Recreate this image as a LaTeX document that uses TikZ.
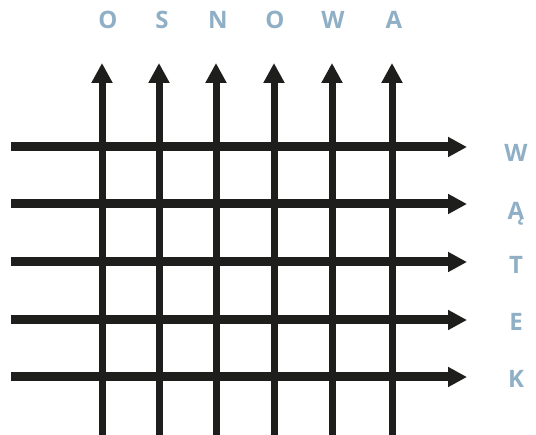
\documentclass[tikz,border=0pt]{standalone}
\usepackage{fontspec}
\setmainfont{Open Sans}[BoldFont={Open Sans Bold}]
\usetikzlibrary{arrows.meta,positioning}
\definecolor{lettercol}{HTML}{8FAFC6}
\definecolor{yarncol}{HTML}{1E1E1C}

\begin{document}
\begin{tikzpicture}[x=1pt,y=-1pt,
 lbl/.style={text=lettercol,font=\bfseries\fontsize{24}{24}\selectfont,anchor=base,inner sep=0pt},
 warp/.style={-{Triangle[length=20pt,width=20pt]},line width=7pt,draw=yarncol},
 weft/.style={-{Triangle[length=19pt,width=19pt]},line width=9pt,draw=yarncol}]
\useasboundingbox (0,0) rectangle (536,435);
% osnowa (warp)
\node[lbl] (o1) at (108,29) {O};\node[lbl] (s) at (162,29) {S};\node[lbl] (n) at (218,29) {N};
\node[lbl] (o2) at (275,29) {O};\node[lbl] (w1) at (333,29) {W};\node[lbl] (a) at (394,29) {A};
% wątek (weft)
\node[lbl] (w2) at (516,162) {W};\node[lbl] (aa) at (516,220) {Ą};\node[lbl] (t) at (516,274) {T};
\node[lbl] (e) at (516,331) {E};\node[lbl] (k) at (516,388) {K};
% ends of the threads
\coordinate (v1s) at (102,435);\coordinate (v1e) at (102,63);
\coordinate (v2s) at (159,435);\coordinate (v2e) at (159,63);
\coordinate (v3s) at (216,435);\coordinate (v3e) at (216,63);
\coordinate (v4s) at (274,435);\coordinate (v4e) at (274,63);
\coordinate (v5s) at (332,435);\coordinate (v5e) at (332,63);
\coordinate (v6s) at (392,435);\coordinate (v6e) at (392,63);
\coordinate (h1s) at (11,147);\coordinate (h1e) at (467,147);
\coordinate (h2s) at (11,204);\coordinate (h2e) at (467,204);
\coordinate (h3s) at (11,262);\coordinate (h3e) at (467,262);
\coordinate (h4s) at (11,320);\coordinate (h4e) at (467,320);
\coordinate (h5s) at (11,377);\coordinate (h5e) at (467,377);
\draw[weft](h1s)--(h1e);\draw[weft](h2s)--(h2e);\draw[weft](h3s)--(h3e);
\draw[weft](h4s)--(h4e);\draw[weft](h5s)--(h5e);
\draw[warp](v1s)--(v1e);\draw[warp](v2s)--(v2e);\draw[warp](v3s)--(v3e);
\draw[warp](v4s)--(v4e);\draw[warp](v5s)--(v5e);\draw[warp](v6s)--(v6e);
\end{tikzpicture}
\end{document}
